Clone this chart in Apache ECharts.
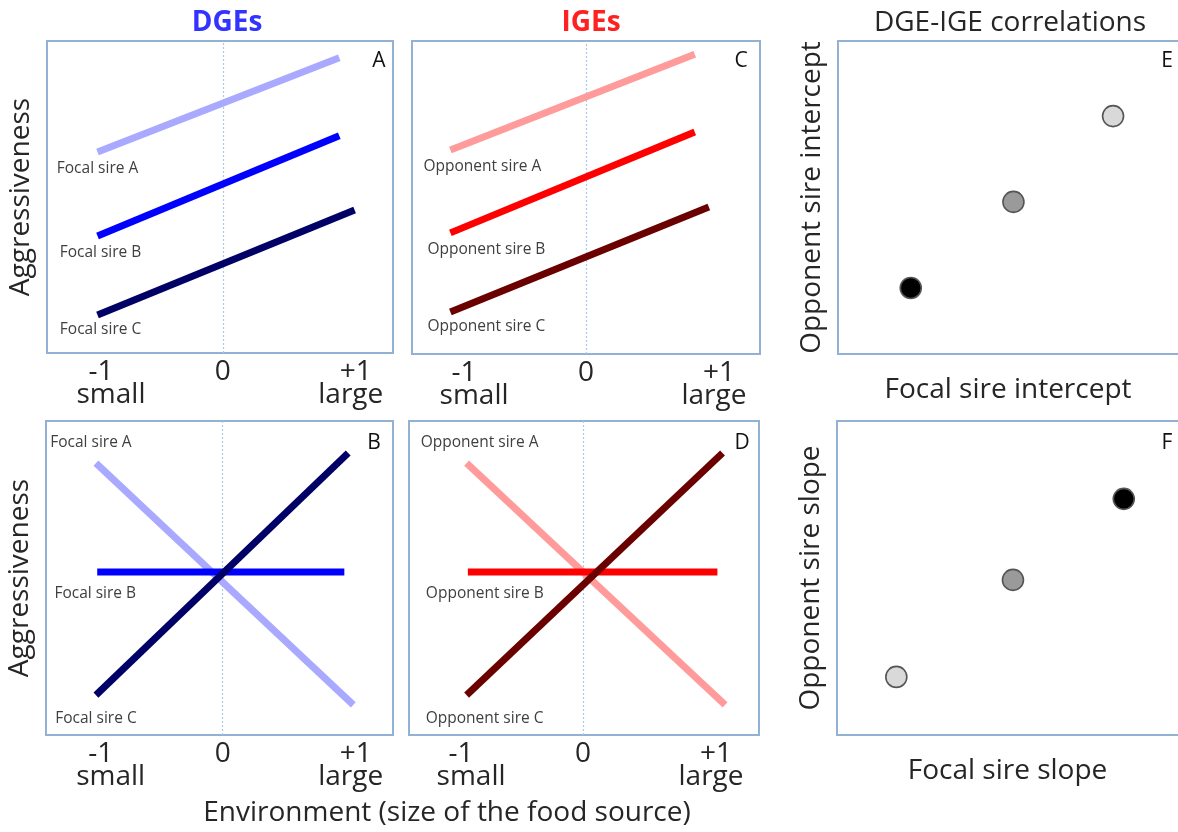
<!DOCTYPE html>
<html>
<head>
<meta charset="utf-8">
<script src="https://cdn.jsdelivr.net/npm/echarts@6/dist/echarts.min.js"></script>
<style>
  html, body { margin: 0; padding: 0; background: #fff; }
  #chart { width: 1178px; height: 832px; }
</style>
</head>
<body>
<div id="chart"></div>
<script>
// Reaction norms: [environment, aggressiveness] at the two ends of each line
const dgeInterceptA = [[-0.98, 6.44], [0.91, 9.46]];
const dgeInterceptB = [[-0.98, 3.75], [0.91, 6.96]];
const dgeInterceptC = [[-0.98, 1.22], [1.03, 4.58]];

const igeInterceptA = [[-1.06, 6.52], [0.85, 9.58]];
const igeInterceptB = [[-1.06, 3.87], [0.85, 7.09]];
const igeInterceptC = [[-1.06, 1.34], [0.96, 4.70]];

const dgeSlopeA = [[-0.99, 8.66], [1.02, 0.96]];
const dgeSlopeB = [[-0.98, 5.19], [0.95, 5.19]];
const dgeSlopeC = [[-0.99, 1.27], [0.98, 8.98]];

const igeSlopeA = [[-0.91, 8.66], [1.11, 0.96]];
const igeSlopeB = [[-0.90, 5.19], [1.05, 5.19]];
const igeSlopeC = [[-0.91, 1.27], [1.09, 8.98]];

// Sire values for the correlation panels: [focal, opponent]
const interceptPoints = [[8.09, 7.60], [5.16, 4.86], [2.14, 2.11]];
const slopePoints = [[8.41, 7.52], [5.16, 4.94], [1.74, 1.85]];
const pointShades = ['#d9d9d9', '#9a9a9a', '#000000'];
const slopeShades = ['#000000', '#9a9a9a', '#d9d9d9'];

const envTicks = [-1, 0, 1];
const envTickLabels = { '-1': '{lo|-1}\n{loWord|small}', '0': '{mid|0}', '1': '{hi|+1}\n{hiWord|large}' };
const focalNames = ['Focal sire A', 'Focal sire B', 'Focal sire C'];
const opponentNames = ['Opponent sire A', 'Opponent sire B', 'Opponent sire C'];

const FONT = 'Open Sans';
const BORDER = '#93b1d3';
const TEXT = '#262626';
const BIG = 28;

const chart = echarts.init(document.getElementById('chart'));

// Reaction-norm panels are boxed; the correlation panels are open on the right
const grids = [
  { left: 47, top: 41, width: 346, height: 312, show: true },   // A
  { left: 412, top: 41, width: 348, height: 313, show: true },  // C
  { left: 838, top: 41, width: 362, height: 313, show: false }, // E
  { left: 46, top: 421, width: 347, height: 314, show: true },  // B
  { left: 409, top: 421, width: 350, height: 314, show: true }, // D
  { left: 837, top: 421, width: 362, height: 314, show: false } // F
].map(g => Object.assign({ borderColor: BORDER, borderWidth: 2, backgroundColor: '#fff' }, g));

const frameLine = { show: true, onZero: false, lineStyle: { color: BORDER, width: 2 } };

function envAxis(gridIndex, min, max) {
  const base = { fontFamily: FONT, fontSize: BIG, color: TEXT, lineHeight: 23 };
  return {
    type: 'value', gridIndex, min, max,
    axisLine: { show: false }, axisTick: { show: false }, splitLine: { show: false },
    axisLabel: {
      customValues: envTicks,
      formatter: v => envTickLabels[String(v)],
      fontFamily: FONT, fontSize: BIG, color: TEXT, lineHeight: 23, margin: 8,
      rich: {
        lo: Object.assign({ padding: [0, 0, 0, 12] }, base),
        loWord: Object.assign({ padding: [0, 0, 0, 32] }, base),
        mid: Object.assign({}, base),
        hi: Object.assign({ padding: [0, 0, 0, 10] }, base),
        hiWord: Object.assign({}, base)
      }
    }
  };
}
function plainY(gridIndex, name, framed) {
  return {
    type: 'value', gridIndex, min: 0, max: 10,
    axisLine: framed ? frameLine : { show: false },
    axisTick: { show: false }, splitLine: { show: false }, axisLabel: { show: false },
    name: name || '', nameLocation: 'middle', nameGap: 12,
    nameTextStyle: { fontFamily: FONT, fontSize: BIG, color: TEXT }
  };
}
function plainX(gridIndex, name) {
  return {
    type: 'value', gridIndex, min: 0, max: 10,
    axisLine: frameLine, axisTick: { show: false }, splitLine: { show: false }, axisLabel: { show: false },
    name: name, nameLocation: 'middle', nameGap: 22,
    nameTextStyle: { fontFamily: FONT, fontSize: BIG, color: TEXT }
  };
}
function topEdge(gridIndex) {
  return {
    type: 'value', gridIndex, position: 'top', min: 0, max: 10,
    axisLine: frameLine, axisTick: { show: false }, splitLine: { show: false }, axisLabel: { show: false }
  };
}

// Dotted guide at environment 0, kept beneath the reaction norms
function zeroGuide(idx) {
  return {
    type: 'line', xAxisIndex: idx, yAxisIndex: idx, data: [], z: 1, silent: true,
    markLine: {
      z: 1, silent: true, symbol: 'none', label: { show: false },
      lineStyle: { color: '#a9c8ea', type: [2, 2], width: 1.2 },
      data: [{ xAxis: 0 }], animation: false
    }
  };
}

// One reaction-norm line, named at its left end
function normLine(idx, data, color, name, labelPos, labelOffset) {
  return {
    type: 'line', xAxisIndex: idx, yAxisIndex: idx, z: 3,
    data: [{ value: data[0], label: {
        show: true, formatter: name, position: labelPos, offset: labelOffset,
        fontFamily: FONT, fontSize: 15.5, color: '#404040'
      } }, { value: data[1] }],
    showSymbol: true, symbol: 'circle', symbolSize: 0,
    lineStyle: { color, width: 7, cap: 'butt' },
    itemStyle: { color },
    silent: true, animation: false
  };
}

function dots(idx, data, shades) {
  return {
    type: 'scatter', xAxisIndex: idx, yAxisIndex: idx,
    data: data.map((d, i) => ({ value: d, itemStyle: { color: shades[i] } })),
    symbolSize: 21,
    itemStyle: { borderColor: '#555', borderWidth: 1.6, opacity: 1 },
    silent: true, animation: false
  };
}

const blues = ['#a9a9ff', '#0000ff', '#000066'];
const reds = ['#ff9b9b', '#ff0000', '#6b0000'];

function letter(text, left, top) {
  return { text, left, top, textAlign: 'center', textStyle: { fontFamily: FONT, fontSize: 21, fontWeight: 'normal', color: '#111' } };
}

const option = {
  backgroundColor: '#fff',
  animation: false,
  title: [
    { text: 'DGEs', left: 222, top: 4, textAlign: 'center', textStyle: { fontFamily: FONT, fontSize: 28, fontWeight: 'bold', color: '#3333ff' } },
    { text: 'IGEs', left: 586, top: 4, textAlign: 'center', textStyle: { fontFamily: FONT, fontSize: 28, fontWeight: 'bold', color: '#ff2020' } },
    { text: 'DGE-IGE correlations', left: 1005, top: 4, textAlign: 'center', textStyle: { fontFamily: FONT, fontSize: 28, fontWeight: 'normal', color: TEXT } },
    { text: 'Environment (size of the food source)', left: 442, top: 794, textAlign: 'center', textStyle: { fontFamily: FONT, fontSize: BIG, fontWeight: 'normal', color: TEXT } },
    letter('A', 374, 46), letter('C', 736, 46), letter('E', 1162, 46),
    letter('B', 369, 428), letter('D', 737, 428), letter('F', 1162, 428)
  ],
  grid: grids,
  xAxis: [
    envAxis(0, -1.375, 1.33),
    envAxis(1, -1.36, 1.36),
    plainX(2, 'Focal sire intercept'),
    envAxis(3, -1.38, 1.33),
    envAxis(4, -1.36, 1.375),
    plainX(5, 'Focal sire slope'),
    topEdge(2),
    topEdge(5)
  ],
  yAxis: [
    plainY(0, 'Aggressiveness'),
    plainY(1),
    plainY(2, 'Opponent sire intercept', true),
    plainY(3, 'Aggressiveness'),
    plainY(4),
    plainY(5, 'Opponent sire slope', true)
  ],
  series: [
    zeroGuide(0), zeroGuide(1), zeroGuide(3), zeroGuide(4),

    normLine(0, dgeInterceptA, blues[0], focalNames[0], 'bottom', [0, 4]),
    normLine(0, dgeInterceptB, blues[1], focalNames[1], 'bottom', [3, 4]),
    normLine(0, dgeInterceptC, blues[2], focalNames[2], 'bottom', [3, 2]),

    normLine(1, igeInterceptA, reds[0], opponentNames[0], 'bottom', [32, 4]),
    normLine(1, igeInterceptB, reds[1], opponentNames[1], 'bottom', [36, 4]),
    normLine(1, igeInterceptC, reds[2], opponentNames[2], 'bottom', [36, 2]),

    dots(2, interceptPoints, pointShades),

    normLine(3, dgeSlopeA, blues[0], focalNames[0], 'top', [-5, -7]),
    normLine(3, dgeSlopeB, blues[1], focalNames[1], 'bottom', [-2, 9]),
    normLine(3, dgeSlopeC, blues[2], focalNames[2], 'bottom', [0, 10]),

    normLine(4, igeSlopeA, reds[0], opponentNames[0], 'top', [13, -7]),
    normLine(4, igeSlopeB, reds[1], opponentNames[1], 'bottom', [17, 9]),
    normLine(4, igeSlopeC, reds[2], opponentNames[2], 'bottom', [18, 10]),

    dots(5, slopePoints, slopeShades)
  ]
};

chart.setOption(option);
</script>
</body>
</html>
